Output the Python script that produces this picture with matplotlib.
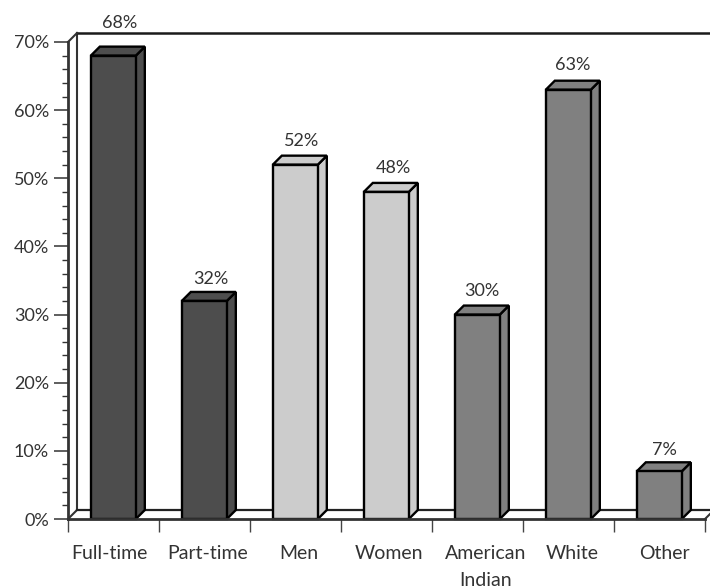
import matplotlib
matplotlib.use("Agg")
import matplotlib.pyplot as plt
from matplotlib.patches import Polygon

categories = ["Full-time", "Part-time", "Men", "Women", "American\nIndian", "White", "Other"]
values = [68, 32, 52, 48, 30, 63, 7]
group_colors = ["#4d4d4d", "#4d4d4d", "#cccccc", "#cccccc", "#808080", "#808080", "#808080"]
y_ticks = [0, 10, 20, 30, 40, 50, 60, 70]
y_minor = [v for v in range(0, 72, 2) if v % 10 != 0]
label_shift = [-4, 3, 3, 2, 8, 4, 5]  # pixels, category labels sit a bit off centre
value_shift_x = [2, 2, 2, 2, 0, 0, 0]
value_shift_y = [9, -2, 0, 0, 0, 1, -3]

W, H = 710, 588
left, right, base, top = 68, 705, 519, 42
text_color = "#333333"
line_color = "#1a1a1a"

plt.rcParams["font.family"] = ["Lato", "DejaVu Sans"]
fig = plt.figure(figsize=(W / 100, H / 100), dpi=100)
ax = fig.add_axes([left / W, 1 - base / H, (right - left) / W, (base - top) / H])
ax.set_xlim(0, 7)
ax.set_ylim(0, 70)
for s in ax.spines.values():
    s.set_visible(False)

# depth of the fake 3d box, in data units
dx = 9 / ((right - left) / 7)
dy = 9 / ((base - top) / 70)
bar_w = 45 / ((right - left) / 7)
lw = 1.7


def line(xs, ys, width=lw, color=line_color, z=1):
    ax.plot(xs, ys, color=color, lw=width, zorder=z, clip_on=False, solid_capstyle="projecting")


# back wall and floor
line([0, dx, dx], [0, dy, 70 + dy], color="#333333", width=1.5)
line([dx, 7.06], [70 + dy, 70 + dy], color="#1a1a1a", width=1.8)
line([0, dx], [70, 70 + dy], color="#333333", width=1.5)
line([0, 7], [0, 0], width=2.0, color="#333333", z=4)
line([dx, 7 + dx], [dy, dy], color="#222222", width=1.6)
line([7, 7 + dx], [0, dy], color="#333333", width=1.5)
line([0, 0], [0, 70], width=2.0, color="#333333", z=4)

for i, (v, c) in enumerate(zip(values, group_colors)):
    x0 = i + 0.5 - 0.002 - bar_w / 2
    x1 = x0 + bar_w
    front = Polygon([(x0, 0), (x1, 0), (x1, v), (x0, v)], fc=c, ec="black", lw=lw, zorder=3, joinstyle="miter")
    side = Polygon([(x1, 0), (x1 + dx, dy), (x1 + dx, v + dy), (x1, v)], fc=c, ec="black", lw=lw, zorder=2, joinstyle="miter")
    cap = Polygon([(x0, v), (x1, v), (x1 + dx, v + dy), (x0 + dx, v + dy)], fc=c, ec="black", lw=lw, zorder=2, joinstyle="miter")
    for p in (side, cap, front):
        p.set_clip_on(False)
        ax.add_patch(p)
    ax.annotate(f"{v}%", (i + 0.5 + dx / 2, v + dy),
                xytext=(value_shift_x[i] * 0.72, 5 + value_shift_y[i] * 0.72), textcoords="offset points",
                ha="center", va="bottom", fontsize=13, color=text_color, annotation_clip=False)

ax.set_yticks(y_ticks)
ax.set_yticklabels([f"{v}%" for v in y_ticks], fontsize=13, color=text_color)
ax.set_yticks(y_minor, minor=True)
ax.tick_params(axis="y", which="major", length=14 * 0.72, width=1.1, color="#333333", pad=3.5)
ax.tick_params(axis="y", which="minor", length=6 * 0.72, width=1.0, color="#333333")

ax.set_xticks(range(8))
ax.set_xticklabels([])
ax.tick_params(axis="x", which="major", length=13 * 0.72, width=1.0, color="#444444")
ax.set_zorder(2)

for i, (name, shift) in enumerate(zip(categories, label_shift)):
    ax.annotate(name, (i + 0.5, 0), xytext=(shift * 0.72, -26 * 0.72), textcoords="offset points",
                ha="center", va="top", fontsize=14, color=text_color, linespacing=1.7, annotation_clip=False)

fig.savefig("out.png", dpi=100)
